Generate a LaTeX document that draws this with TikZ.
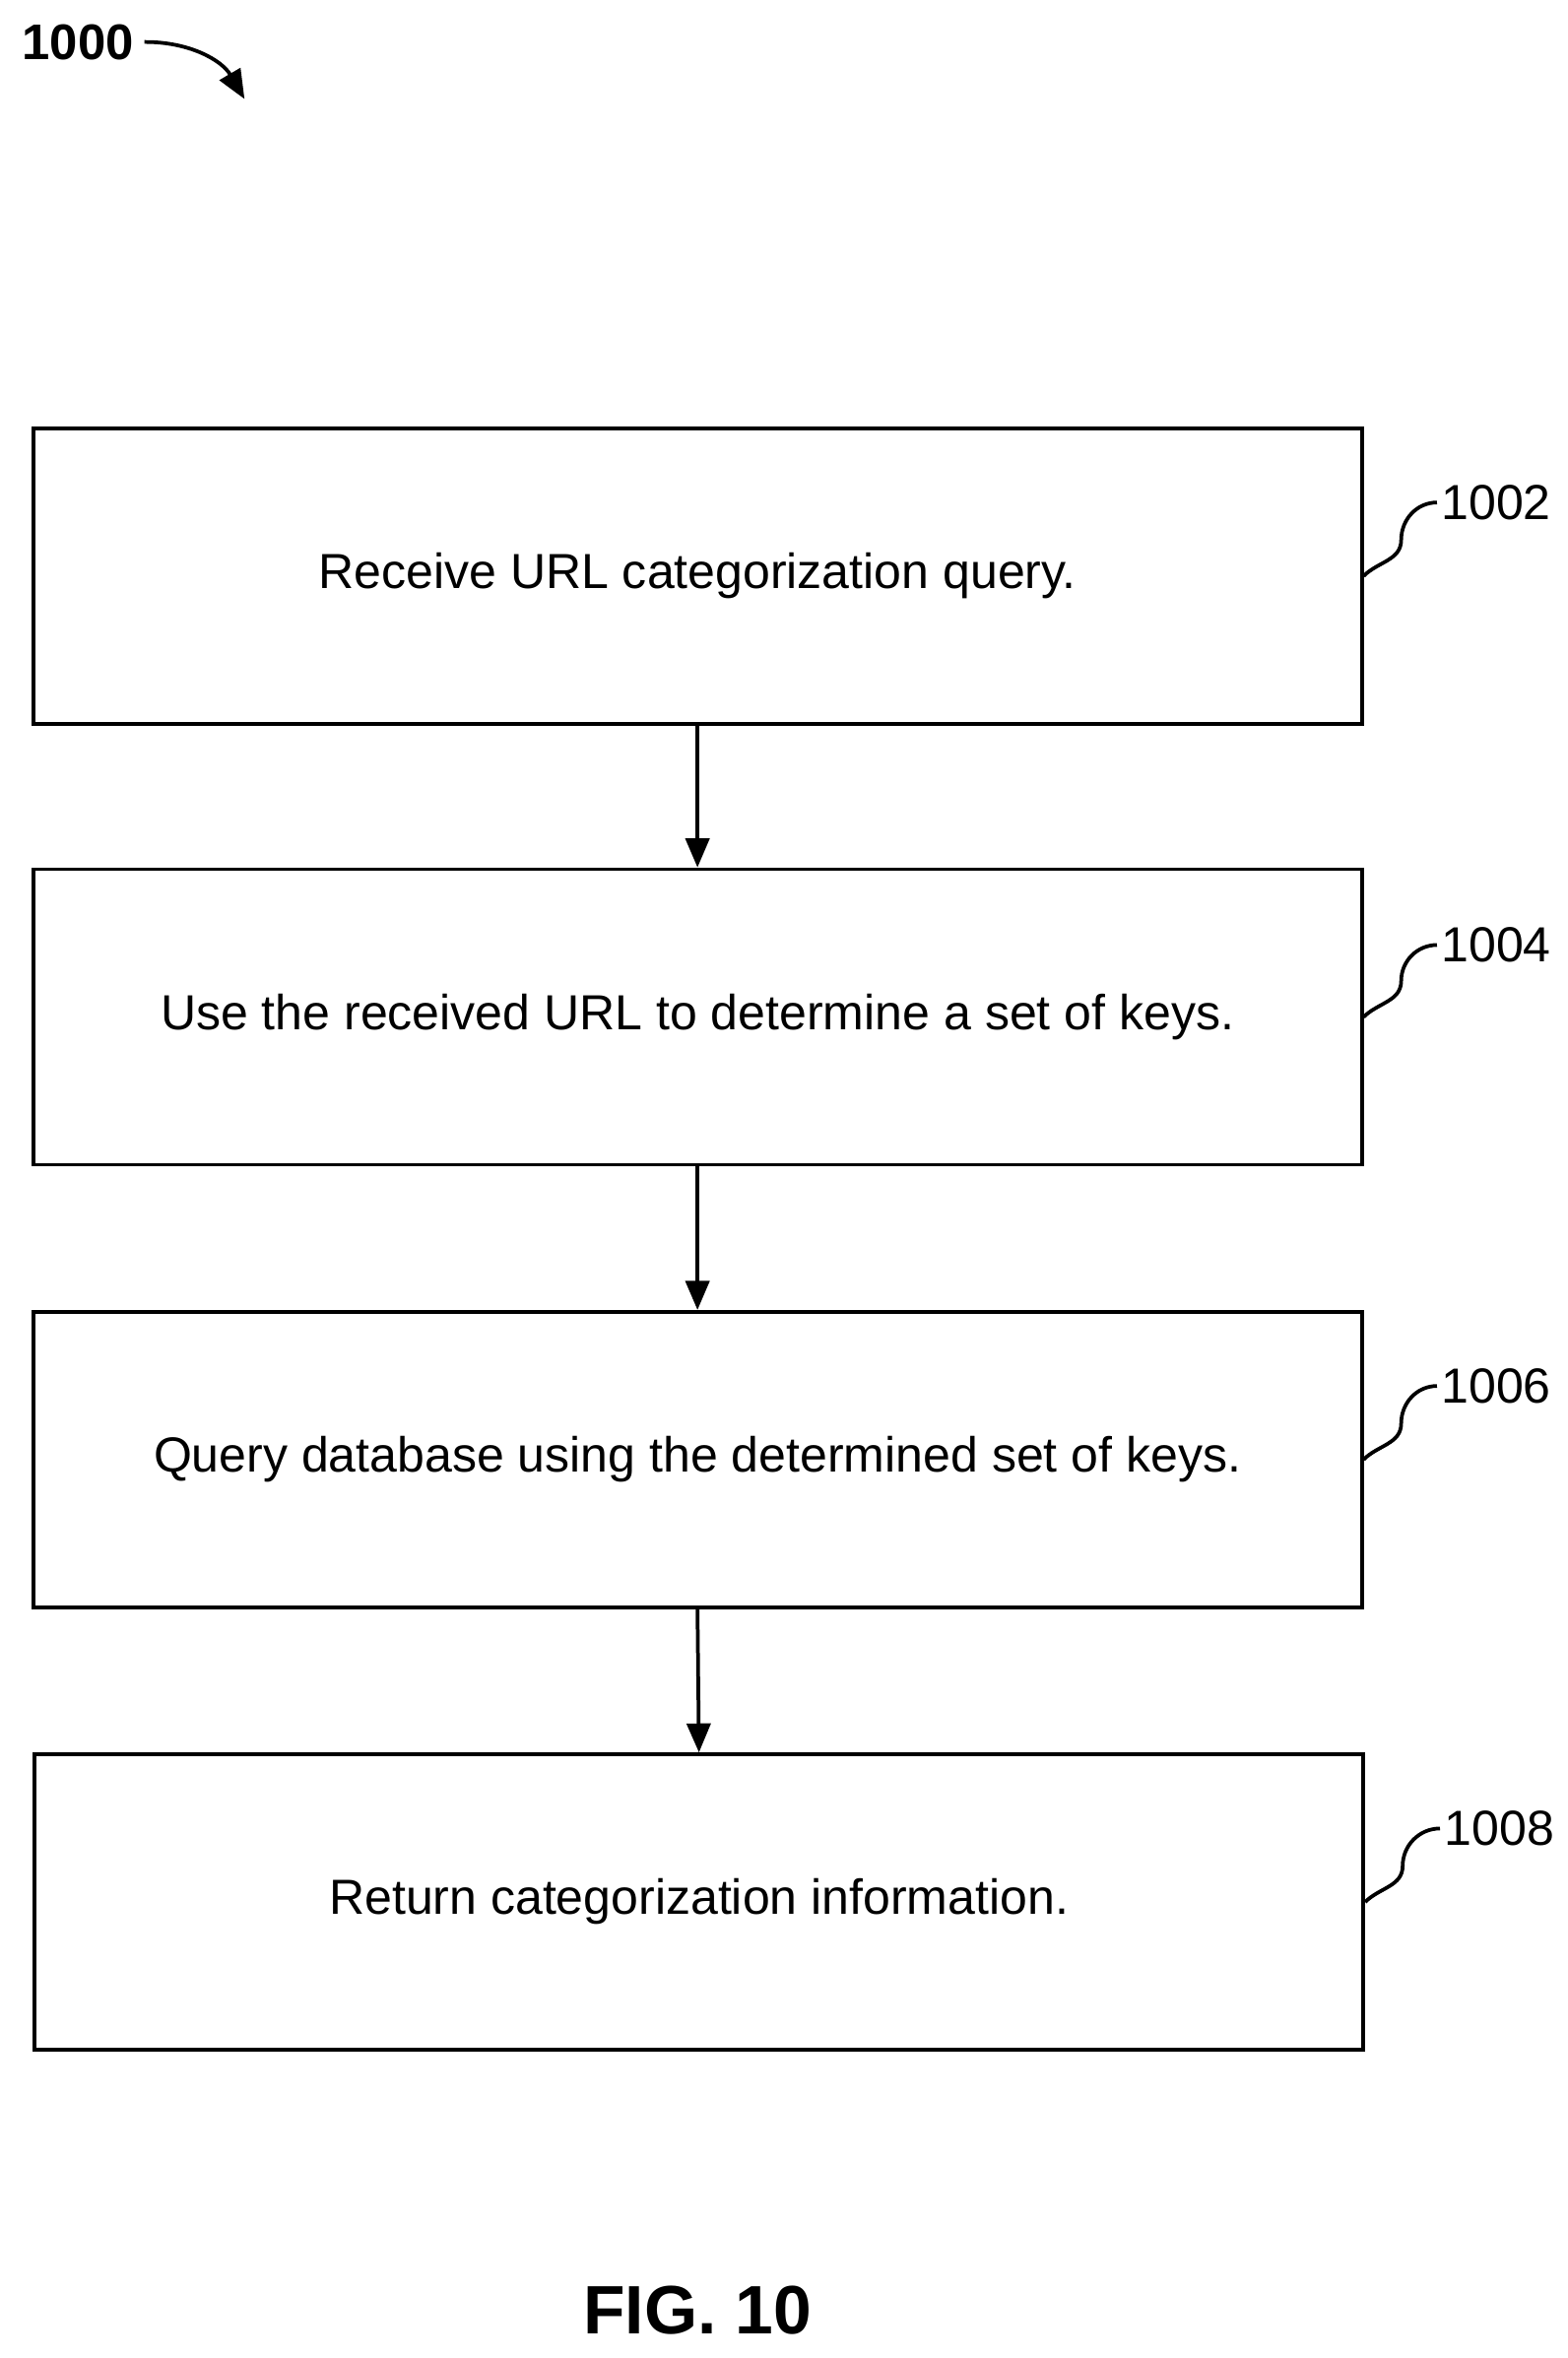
\documentclass[tikz,border=0pt]{standalone}
\usepackage{fontspec}
\setmainfont{Liberation Sans}
\usetikzlibrary{arrows.meta}
\begin{document}
\begin{tikzpicture}[x=0.02cm,y=0.02cm,line width=1.4pt,
    stepbox/.style={draw,minimum width=17.72cm,minimum height=3.94cm,font=\fontsize{18.7}{22}\selectfont},
    ref/.style={font=\fontsize{18.7}{22}\selectfont,inner sep=1pt},
    flow/.style={-{Triangle[length=11pt,width=9pt]}}]
  \useasboundingbox (0,0) rectangle (1045,1572);
  \node[font=\bfseries\fontsize{19}{22}\selectfont](fig) at (52,1544){1000};
  \coordinate (figend) at (163,1506);
  \draw[flow] (fig.east) to[bend left=30] (figend);
  \node[stepbox](b1) at (465,1188){Receive URL categorization query.};
  \node[stepbox](b2) at (465,894){Use the received URL to determine a set of keys.};
  \node[stepbox](b3) at (465,599){Query database using the determined set of keys.};
  \node[stepbox](b4) at (466,304){Return categorization information.};
  \node[ref,anchor=west](l1) at (958,1237){1002};
  \node[ref,anchor=west](l2) at (958,942){1004};
  \node[ref,anchor=west](l3) at (958,648){1006};
  \node[ref,anchor=west](l4) at (960,353){1008};
  \foreach \a/\b in {b1/b2,b2/b3,b3/b4}
    \draw[flow] (\a.south) -- (\b.north);
  \foreach \b/\l in {b1/l1,b2/l2,b3/l3,b4/l4}
    \draw (\b.east) to[out=45,in=-90] ++(25,24) to[out=90,in=180] (\l.west);
  \node[font=\bfseries\fontsize{26}{30}\selectfont](cap) at (465,32){FIG. 10};
\end{tikzpicture}
\end{document}
